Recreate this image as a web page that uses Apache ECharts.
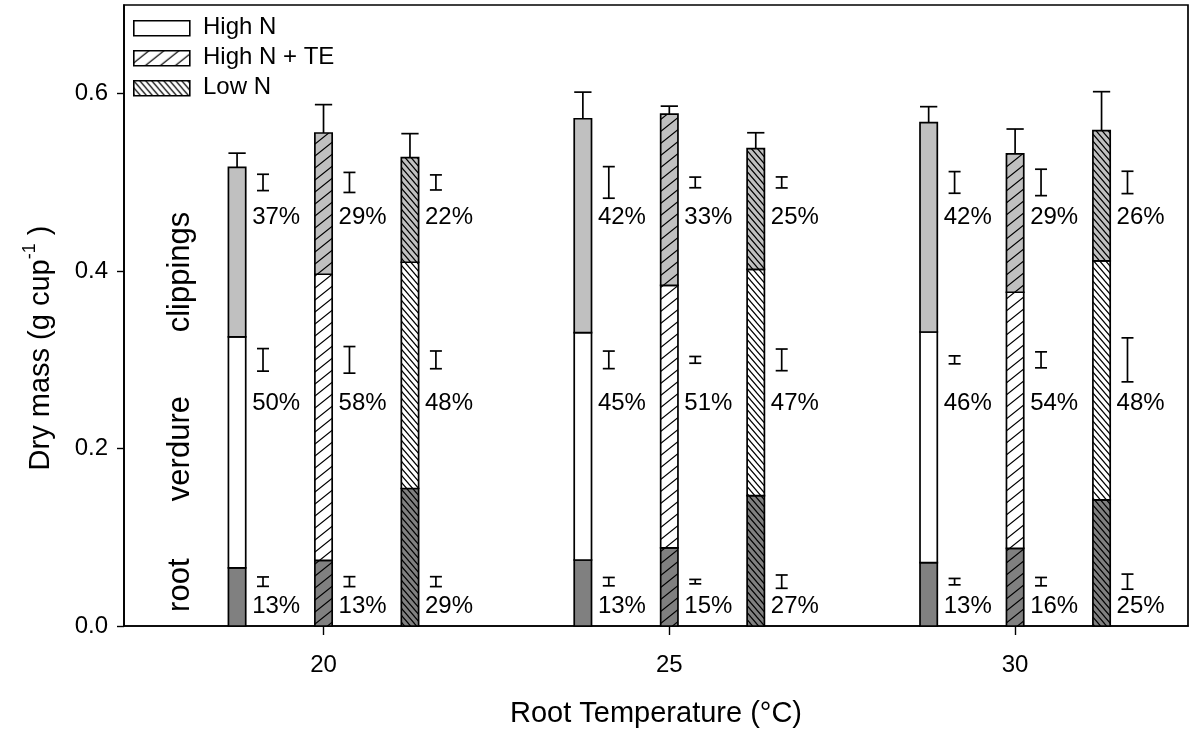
<!DOCTYPE html>
<html>
<head>
<meta charset="utf-8">
<script src="https://cdn.jsdelivr.net/npm/echarts@6/dist/echarts.min.js"></script>
<style>
  html, body { margin: 0; padding: 0; background: #fff; }
  #chart { width: 1193px; height: 732px; }
</style>
</head>
<body>
<div id="chart"></div>
<script>
// Root temperatures (°C) and nutrient treatments
const temps = [20, 25, 30];
const treatments = ['High N', 'High N + TE', 'Low N'];
const sections = ['clippings', 'verdure', 'root'];

// Dry mass per fraction (g cup-1)
const rootHighN   = [0.0655, 0.0744, 0.0714];
const rootHighNTE = [0.074, 0.088, 0.0875];
const rootLowN    = [0.155, 0.147, 0.1421];

const verdureHighN   = [0.2605, 0.2564, 0.260];
const verdureHighNTE = [0.3225, 0.296, 0.2887];
const verdureLowN    = [0.255, 0.255, 0.2695];

const clipHighN   = [0.191, 0.241, 0.236];
const clipHighNTE = [0.1592, 0.193, 0.156];
const clipLowN    = [0.118, 0.136, 0.1467];

// Standard errors: whole plant and each fraction
const errTotalHighN   = [0.016, 0.030, 0.018];
const errTotalHighNTE = [0.032, 0.009, 0.028];
const errTotalLowN    = [0.027, 0.018, 0.044];

const errClipHighN   = [0.0092, 0.0178, 0.0122];
const errClipHighNTE = [0.0113, 0.006, 0.0149];
const errClipLowN    = [0.0085, 0.0062, 0.0126];

const errVerdHighN   = [0.0127, 0.0099, 0.0045];
const errVerdHighNTE = [0.015, 0.0038, 0.009];
const errVerdLowN    = [0.010, 0.0122, 0.0248];

const errRootHighN   = [0.0053, 0.0047, 0.0036];
const errRootHighNTE = [0.0056, 0.0025, 0.0047];
const errRootLowN    = [0.0056, 0.0075, 0.0085];

const yTicks = [0, 0.2, 0.4, 0.6];

// ---- layout constants ----
const BAR_OFFSETS = [-1.25, 0, 1.25];
const BAR_W = 0.25;
const SE_DX = 0.375;          // side error bars, right of each bar
const PCT_DX = 0.565;         // percentage labels, right of each bar
const SE_Y = { clip: 0.5, verd: 0.3, root: 0.05 };
const PCT_Y = { clip: 0.461, verd: 0.251, root: 0.022 };
const SECTION_X = 17.93;
const SECTION_Y = [0.399, 0.2, 0.046];
const FONT = '"Liberation Sans", Arial, sans-serif';

function hatch(bg, dir, w, h, lw) {
  const c = document.createElement('canvas');
  c.width = w; c.height = h;
  const g = c.getContext('2d');
  g.fillStyle = bg; g.fillRect(0, 0, w, h);
  if (dir) {
    g.strokeStyle = '#000'; g.lineWidth = lw; g.lineCap = 'square';
    g.beginPath();
    for (let k = -1; k <= 1; k++) {
      if (dir === '/') { g.moveTo(k * w, h); g.lineTo(k * w + w, 0); }
      else { g.moveTo(k * w, 0); g.lineTo(k * w + w, h); }
    }
    g.stroke();
  }
  return { image: c, repeat: 'repeat' };
}

const ROOT_C = '#808080', VERD_C = '#ffffff', CLIP_C = '#c0c0c0';
const hatchDefs = [
  { dir: null, w: 8, h: 8 },
  { dir: '/', w: 15, h: 12 },
  { dir: '\\', w: 6, h: 7 }
];
const fills = hatchDefs.map(d => ({
  root: hatch(ROOT_C, d.dir, d.w, d.h, 1.2),
  verd: hatch(VERD_C, d.dir, d.w, d.h, 1.2),
  clip: hatch(CLIP_C, d.dir, d.w, d.h, 1.2)
}));

const roots = [rootHighN, rootHighNTE, rootLowN];
const verds = [verdureHighN, verdureHighNTE, verdureLowN];
const clips = [clipHighN, clipHighNTE, clipLowN];
const errT = [errTotalHighN, errTotalHighNTE, errTotalLowN];
const errC = [errClipHighN, errClipHighNTE, errClipLowN];
const errV = [errVerdHighN, errVerdHighNTE, errVerdLowN];
const errR = [errRootHighN, errRootHighNTE, errRootLowN];

const LW = 1.7;

function makeRender(ti) {
  return function (params, api) {
    const x = api.value(0);
    const r = api.value(1), v = api.value(2), c = api.value(3);
    const eT = api.value(4), eC = api.value(5), eV = api.value(6), eR = api.value(7);
    const total = r + v + c;
    const hw = BAR_W / 2;
    const children = [];
    const segRect = (y0, y1, fill) => {
      const p0 = api.coord([x - hw, y1]);
      const p1 = api.coord([x + hw, y0]);
      return {
        type: 'rect',
        shape: { x: p0[0], y: p0[1], width: p1[0] - p0[0], height: p1[1] - p0[1] },
        style: { fill: fill, stroke: '#000', lineWidth: LW }
      };
    };
    children.push(segRect(0, r, fills[ti].root));
    children.push(segRect(r, r + v, fills[ti].verd));
    children.push(segRect(r + v, total, fills[ti].clip));

    // whole-plant error bar (upper arm)
    const top = api.coord([x, total]);
    const cap = api.coord([x, total + eT]);
    const capL = api.coord([x - hw, total + eT]);
    const capR = api.coord([x + hw, total + eT]);
    children.push({ type: 'line', shape: { x1: top[0], y1: top[1], x2: cap[0], y2: cap[1] }, style: { stroke: '#000', lineWidth: LW } });
    children.push({ type: 'line', shape: { x1: capL[0], y1: capL[1], x2: capR[0], y2: capR[1] }, style: { stroke: '#000', lineWidth: LW } });

    // fraction error bars, drawn beside each bar
    const seBar = (yc, e) => {
      const a = api.coord([x + SE_DX, yc + e]);
      const b = api.coord([x + SE_DX, yc - e]);
      const cw = 6;
      return [
        { type: 'line', shape: { x1: a[0], y1: a[1], x2: b[0], y2: b[1] }, style: { stroke: '#000', lineWidth: LW } },
        { type: 'line', shape: { x1: a[0] - cw, y1: a[1], x2: a[0] + cw, y2: a[1] }, style: { stroke: '#000', lineWidth: LW } },
        { type: 'line', shape: { x1: b[0] - cw, y1: b[1], x2: b[0] + cw, y2: b[1] }, style: { stroke: '#000', lineWidth: LW } }
      ];
    };
    children.push(...seBar(SE_Y.clip, eC), ...seBar(SE_Y.verd, eV), ...seBar(SE_Y.root, eR));

    // share of each fraction in total dry mass
    const pct = (val, yPos) => {
      const p = api.coord([x + PCT_DX, yPos]);
      return {
        type: 'text', x: p[0], y: p[1],
        style: { text: Math.round(val / total * 100) + '%', font: '24px ' + FONT, fill: '#000', align: 'center', verticalAlign: 'middle' }
      };
    };
    children.push(pct(c, PCT_Y.clip), pct(v, PCT_Y.verd), pct(r, PCT_Y.root));

    return { type: 'group', children: children };
  };
}

const series = treatments.map((name, ti) => ({
  type: 'custom',
  name: name,
  renderItem: makeRender(ti),
  clip: false,
  data: temps.map((t, gi) => [
    t + BAR_OFFSETS[ti], roots[ti][gi], verds[ti][gi], clips[ti][gi],
    errT[ti][gi], errC[ti][gi], errV[ti][gi], errR[ti][gi]
  ])
}));

// rotated fraction names at the left of the plot
series.push({
  type: 'custom',
  name: 'sections',
  clip: false,
  renderItem: function (params, api) {
    const p = api.coord([SECTION_X, api.value(0)]);
    return {
      type: 'text', x: p[0], y: p[1], rotation: Math.PI / 2,
      style: { text: sections[params.dataIndex], font: '31px ' + FONT, fill: '#000', align: 'center', verticalAlign: 'middle' }
    };
  },
  data: SECTION_Y.map(y => [y])
});

// legend drawn as boxes with the same fills
const legendGraphics = [];
treatments.forEach((name, i) => {
  const y0 = 20 + i * 30;
  legendGraphics.push({
    type: 'rect', left: 133, top: y0,
    shape: { width: 56, height: 15 },
    style: { fill: fills[i].verd, stroke: '#000', lineWidth: 1.6 }
  });
  legendGraphics.push({
    type: 'text', left: 203, top: y0 + 7.5 - 12,
    style: { text: name, font: '24px ' + FONT, fill: '#000' }
  });
});

// y-axis title with superscript unit
legendGraphics.push({
  type: 'text', x: 38, y: 348, rotation: Math.PI / 2,
  style: {
    text: '{a|Dry mass (g cup}{s|-1}{a| )}',
    align: 'center', verticalAlign: 'middle',
    rich: {
      a: { font: '29px ' + FONT, fill: '#000', lineHeight: 34, verticalAlign: 'bottom' },
      s: { font: '18px ' + FONT, fill: '#000', verticalAlign: 'top', padding: [0, 0, 0, 0] }
    }
  }
});

const chart = echarts.init(document.getElementById('chart'), null, { renderer: 'canvas' });
chart.setOption({
  animation: false,
  backgroundColor: '#fff',
  grid: { left: 124, right: 5, top: 5, bottom: 106, show: true, borderColor: '#000', borderWidth: 1.7, containLabel: false, outerBoundsMode: 'none' },
  xAxis: {
    type: 'value', min: 17.115, max: 32.5,
    name: 'Root Temperature (°C)', nameLocation: 'middle', nameGap: 73,
    nameTextStyle: { fontFamily: FONT, fontSize: 29, color: '#000' },
    axisLine: { show: true, lineStyle: { color: '#000', width: 1.7 } },
    axisTick: { show: true, length: 9, lineStyle: { color: '#000', width: 1.4 }, customValues: temps },
    axisLabel: { customValues: temps, margin: 27, fontFamily: FONT, fontSize: 24, color: '#000', formatter: v => String(v) },
    splitLine: { show: false }
  },
  yAxis: {
    type: 'value', min: 0, max: 0.7,
    axisLine: { show: true, lineStyle: { color: '#000', width: 1.7 } },
    axisTick: { show: true, length: 7, lineStyle: { color: '#000', width: 1.4 }, customValues: yTicks },
    axisLabel: { customValues: yTicks, margin: 16, fontFamily: FONT, fontSize: 24, color: '#000', formatter: v => v.toFixed(1) },
    splitLine: { show: false }
  },
  graphic: legendGraphics,
  series: series
});
</script>
</body>
</html>
